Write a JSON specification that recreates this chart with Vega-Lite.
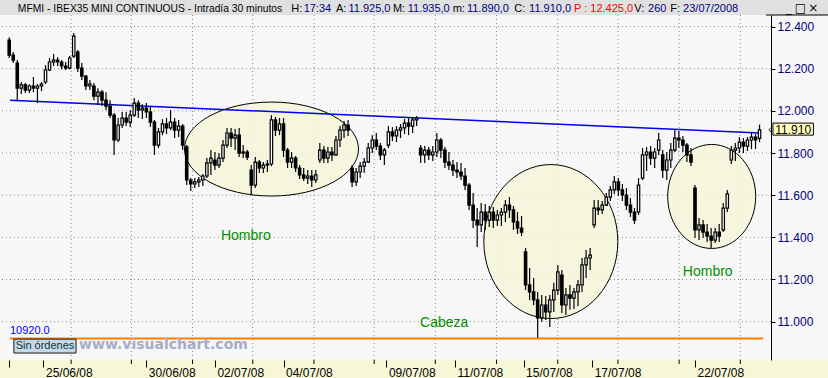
{
"$schema": "https://vega.github.io/schema/vega-lite/v6.json",
"width": 771, "height": 345,
"autosize": {"type": "none"},
"padding": {"left": 0, "top": 15, "right": 57, "bottom": 18},
"background": "#f7f7f7",
"config": {"view": {"stroke": null}, "text": {"font": "Liberation Sans"}},
"resolve": {"axis": {"x": "independent", "y": "independent"}},
"data": {"values": [{}]},
"datasets": {
"hg": [{"v":11000},{"v":11200},{"v":11400},{"v":11600},{"v":11800},{"v":12000},{"v":12200},{"v":12400}],
"vg": [{"n":15.35},{"n":30.28},{"n":45.45},{"n":60.37},{"n":75.54},{"n":90.47},{"n":105.63},{"n":120.81},{"n":135.97},{"n":150.9},{"n":166.07},{"n":181.24}],
"ell": [{"id":1,"n":65.02,"v":11819},{"id":2,"n":134.26,"v":11380},{"id":3,"n":174.14,"v":11594}],
"trend": [{"n":0.2,"v":12051},{"n":186.1,"v":11895}],
"lbl": [{"n":58.66,"v":11387,"t":"Hombro"},{"n":107.84,"v":10975,"t":"Cabeza"},{"n":173.16,"v":11217,"t":"Hombro"}],
"hdr": [{"n":69.9,"t":"H:","k":"label"},{"n":73.0,"t":"17:34","k":"value"},{"n":81.0,"t":"A:","k":"label"},{"n":84.1,"t":"11.925,0","k":"value"},{"n":95.11,"t":"M:","k":"label"},{"n":98.79,"t":"11.935,0","k":"value"},{"n":109.92,"t":"m:","k":"label"},{"n":113.47,"t":"11.890,0","k":"value"},{"n":125.21,"t":"C:","k":"label"},{"n":128.88,"t":"11.910,0","k":"value"},{"n":140.01,"t":"P : 12.425,0","k":"alert"},{"n":154.94,"t":"V:","k":"label"},{"n":158.37,"t":"260","k":"value"},{"n":163.87,"t":"F:","k":"label"},{"n":167.05,"t":"23/07/2008","k":"value"}],
"btn": [{"n":193.23,"t":"_"},{"n":196.16,"t":"□"},{"n":199.35,"t":"×"}],
"bars": [
{"n":0,"o":12336,"h":12350,"l":12251,"c":12265},{"n":1,"o":12265,"h":12279,"l":12227,"c":12241},{"n":2,"o":12227,"h":12241,"l":12051,"c":12108},{"n":3,"o":12108,"h":12137,"l":12080,"c":12123},{"n":4,"o":12123,"h":12132,"l":12085,"c":12099},{"n":5,"o":12099,"h":12127,"l":12085,"c":12118},{"n":6,"o":12118,"h":12161,"l":12089,"c":12108},{"n":7,"o":12108,"h":12127,"l":12037,"c":12118},{"n":8,"o":12118,"h":12137,"l":12094,"c":12127},{"n":9,"o":12137,"h":12217,"l":12127,"c":12194},
{"n":10,"o":12194,"h":12251,"l":12189,"c":12232},{"n":11,"o":12232,"h":12270,"l":12213,"c":12241},{"n":12,"o":12241,"h":12255,"l":12213,"c":12232},{"n":13,"o":12232,"h":12241,"l":12198,"c":12213},{"n":14,"o":12213,"h":12232,"l":12194,"c":12203},{"n":15,"o":12203,"h":12260,"l":12198,"c":12251},{"n":16,"o":12260,"h":12369,"l":12251,"c":12355},{"n":17,"o":12279,"h":12289,"l":12184,"c":12203},{"n":18,"o":12203,"h":12227,"l":12146,"c":12165},{"n":19,"o":12165,"h":12170,"l":12099,"c":12118},
{"n":20,"o":12118,"h":12146,"l":12099,"c":12127},{"n":21,"o":12118,"h":12132,"l":12051,"c":12070},{"n":22,"o":12070,"h":12108,"l":12028,"c":12089},{"n":23,"o":12089,"h":12099,"l":12023,"c":12051},{"n":24,"o":12051,"h":12089,"l":12004,"c":12023},{"n":25,"o":12023,"h":12051,"l":11966,"c":11980},{"n":26,"o":11980,"h":11990,"l":11791,"c":11862},{"n":27,"o":11862,"h":11966,"l":11852,"c":11933},{"n":28,"o":11933,"h":11995,"l":11919,"c":11966},{"n":29,"o":11966,"h":11995,"l":11928,"c":11947},
{"n":30,"o":11947,"h":12004,"l":11923,"c":11980},{"n":31,"o":11980,"h":12061,"l":11971,"c":12037},{"n":32,"o":12037,"h":12051,"l":11966,"c":12004},{"n":33,"o":12004,"h":12032,"l":11961,"c":12013},{"n":34,"o":12013,"h":12037,"l":11966,"c":11995},{"n":35,"o":11995,"h":12023,"l":11923,"c":11947},{"n":36,"o":11947,"h":11957,"l":11791,"c":11838},{"n":37,"o":11838,"h":11919,"l":11824,"c":11900},{"n":38,"o":11900,"h":11961,"l":11885,"c":11938},{"n":39,"o":11938,"h":11966,"l":11890,"c":11919},
{"n":40,"o":11919,"h":12004,"l":11909,"c":11947},{"n":41,"o":11947,"h":11966,"l":11871,"c":11909},{"n":42,"o":11909,"h":11957,"l":11876,"c":11928},{"n":43,"o":11928,"h":11938,"l":11814,"c":11838},{"n":44,"o":11829,"h":11838,"l":11648,"c":11672},{"n":45,"o":11672,"h":11681,"l":11620,"c":11653},{"n":46,"o":11653,"h":11681,"l":11634,"c":11663},{"n":47,"o":11663,"h":11686,"l":11639,"c":11672},{"n":48,"o":11672,"h":11700,"l":11644,"c":11691},{"n":49,"o":11691,"h":11776,"l":11681,"c":11753},
{"n":50,"o":11753,"h":11814,"l":11696,"c":11776},{"n":51,"o":11767,"h":11805,"l":11719,"c":11743},{"n":52,"o":11743,"h":11800,"l":11729,"c":11776},{"n":53,"o":11776,"h":11862,"l":11757,"c":11838},{"n":54,"o":11838,"h":11919,"l":11824,"c":11895},{"n":55,"o":11895,"h":11919,"l":11829,"c":11871},{"n":56,"o":11871,"h":11914,"l":11814,"c":11885},{"n":57,"o":11885,"h":11919,"l":11781,"c":11800},{"n":58,"o":11800,"h":11838,"l":11776,"c":11805},{"n":59,"o":11805,"h":11814,"l":11767,"c":11781},
{"n":60,"o":11719,"h":11743,"l":11601,"c":11648},{"n":61,"o":11648,"h":11781,"l":11634,"c":11757},{"n":62,"o":11757,"h":11767,"l":11705,"c":11729},{"n":63,"o":11729,"h":11757,"l":11705,"c":11743},{"n":64,"o":11743,"h":11767,"l":11710,"c":11748},{"n":65,"o":11748,"h":11980,"l":11738,"c":11957},{"n":66,"o":11957,"h":11971,"l":11881,"c":11909},{"n":67,"o":11909,"h":11966,"l":11885,"c":11938},{"n":68,"o":11938,"h":11966,"l":11781,"c":11814},{"n":69,"o":11814,"h":11824,"l":11729,"c":11757},
{"n":70,"o":11757,"h":11805,"l":11729,"c":11776},{"n":71,"o":11776,"h":11786,"l":11710,"c":11729},{"n":72,"o":11729,"h":11743,"l":11677,"c":11696},{"n":73,"o":11696,"h":11729,"l":11667,"c":11681},{"n":74,"o":11681,"h":11719,"l":11653,"c":11691},{"n":75,"o":11691,"h":11719,"l":11639,"c":11672},{"n":76,"o":11672,"h":11719,"l":11658,"c":11696},{"n":77,"o":11767,"h":11848,"l":11753,"c":11814},{"n":78,"o":11814,"h":11833,"l":11753,"c":11776},{"n":79,"o":11776,"h":11829,"l":11753,"c":11805},
{"n":80,"o":11805,"h":11829,"l":11762,"c":11791},{"n":81,"o":11791,"h":11881,"l":11786,"c":11862},{"n":82,"o":11862,"h":11928,"l":11829,"c":11909},{"n":83,"o":11909,"h":11952,"l":11871,"c":11933},{"n":84,"o":11933,"h":11957,"l":11881,"c":11909},{"n":85,"o":11729,"h":11743,"l":11639,"c":11663},{"n":86,"o":11663,"h":11729,"l":11644,"c":11710},{"n":87,"o":11710,"h":11757,"l":11681,"c":11738},{"n":88,"o":11738,"h":11776,"l":11705,"c":11757},{"n":89,"o":11757,"h":11848,"l":11753,"c":11824},
{"n":90,"o":11824,"h":11885,"l":11800,"c":11862},{"n":91,"o":11862,"h":11895,"l":11814,"c":11833},{"n":92,"o":11833,"h":11848,"l":11767,"c":11791},{"n":93,"o":11791,"h":11824,"l":11743,"c":11814},{"n":94,"o":11838,"h":11928,"l":11824,"c":11900},{"n":95,"o":11900,"h":11923,"l":11857,"c":11881},{"n":96,"o":11881,"h":11928,"l":11852,"c":11909},{"n":97,"o":11909,"h":11938,"l":11871,"c":11919},{"n":98,"o":11919,"h":11961,"l":11890,"c":11942},{"n":99,"o":11942,"h":11966,"l":11885,"c":11928},
{"n":100,"o":11928,"h":11971,"l":11895,"c":11957},{"n":101,"o":11957,"h":11976,"l":11928,"c":11966},{"n":102,"o":11824,"h":11838,"l":11753,"c":11791},{"n":103,"o":11791,"h":11833,"l":11753,"c":11814},{"n":104,"o":11814,"h":11829,"l":11767,"c":11791},{"n":105,"o":11791,"h":11833,"l":11762,"c":11805},{"n":106,"o":11805,"h":11895,"l":11781,"c":11862},{"n":107,"o":11862,"h":11871,"l":11776,"c":11814},{"n":108,"o":11814,"h":11829,"l":11729,"c":11757},{"n":109,"o":11757,"h":11805,"l":11719,"c":11743},
{"n":110,"o":11743,"h":11767,"l":11691,"c":11719},{"n":111,"o":11719,"h":11757,"l":11681,"c":11710},{"n":112,"o":11710,"h":11753,"l":11672,"c":11691},{"n":113,"o":11691,"h":11729,"l":11625,"c":11648},{"n":114,"o":11648,"h":11658,"l":11530,"c":11553},{"n":115,"o":11553,"h":11610,"l":11444,"c":11482},{"n":116,"o":11482,"h":11539,"l":11354,"c":11459},{"n":117,"o":11459,"h":11563,"l":11425,"c":11520},{"n":118,"o":11520,"h":11558,"l":11435,"c":11482},{"n":119,"o":11482,"h":11549,"l":11449,"c":11520},
{"n":120,"o":11520,"h":11544,"l":11444,"c":11482},{"n":121,"o":11482,"h":11530,"l":11454,"c":11506},{"n":122,"o":11506,"h":11539,"l":11454,"c":11520},{"n":123,"o":11520,"h":11577,"l":11473,"c":11553},{"n":124,"o":11553,"h":11591,"l":11492,"c":11530},{"n":125,"o":11530,"h":11549,"l":11435,"c":11473},{"n":126,"o":11473,"h":11520,"l":11416,"c":11444},{"n":127,"o":11444,"h":11501,"l":11406,"c":11425},{"n":128,"o":11331,"h":11350,"l":11150,"c":11174},{"n":129,"o":11174,"h":11255,"l":11103,"c":11141},
{"n":130,"o":11141,"h":11207,"l":11079,"c":11103},{"n":131,"o":11103,"h":11141,"l":10923,"c":11018},{"n":132,"o":11018,"h":11127,"l":10999,"c":11079},{"n":133,"o":11079,"h":11122,"l":11008,"c":11046},{"n":134,"o":11046,"h":11127,"l":10975,"c":11103},{"n":135,"o":11103,"h":11184,"l":11046,"c":11150},{"n":136,"o":11150,"h":11269,"l":11127,"c":11236},{"n":137,"o":11221,"h":11245,"l":11041,"c":11079},{"n":138,"o":11079,"h":11160,"l":11032,"c":11127},{"n":139,"o":11127,"h":11174,"l":11056,"c":11112},
{"n":140,"o":11112,"h":11160,"l":11060,"c":11141},{"n":141,"o":11141,"h":11198,"l":11074,"c":11174},{"n":142,"o":11174,"h":11302,"l":11141,"c":11269},{"n":143,"o":11269,"h":11340,"l":11207,"c":11302},{"n":144,"o":11302,"h":11350,"l":11245,"c":11316},{"n":145,"o":11459,"h":11577,"l":11444,"c":11539},{"n":146,"o":11539,"h":11577,"l":11506,"c":11530},{"n":147,"o":11530,"h":11572,"l":11511,"c":11553},{"n":148,"o":11553,"h":11610,"l":11549,"c":11591},{"n":149,"o":11591,"h":11644,"l":11572,"c":11625},
{"n":150,"o":11625,"h":11691,"l":11606,"c":11663},{"n":151,"o":11663,"h":11681,"l":11596,"c":11625},{"n":152,"o":11625,"h":11653,"l":11572,"c":11601},{"n":153,"o":11601,"h":11634,"l":11530,"c":11553},{"n":154,"o":11553,"h":11587,"l":11497,"c":11520},{"n":155,"o":11520,"h":11539,"l":11463,"c":11482},{"n":156,"o":11520,"h":11681,"l":11506,"c":11648},{"n":157,"o":11681,"h":11824,"l":11672,"c":11791},{"n":158,"o":11791,"h":11829,"l":11715,"c":11805},{"n":159,"o":11805,"h":11833,"l":11743,"c":11776},
{"n":160,"o":11776,"h":11824,"l":11729,"c":11805},{"n":161,"o":11814,"h":11895,"l":11791,"c":11862},{"n":162,"o":11791,"h":11814,"l":11681,"c":11719},{"n":163,"o":11719,"h":11805,"l":11672,"c":11767},{"n":164,"o":11767,"h":11848,"l":11729,"c":11814},{"n":165,"o":11814,"h":11909,"l":11805,"c":11871},{"n":166,"o":11871,"h":11904,"l":11824,"c":11862},{"n":167,"o":11862,"h":11881,"l":11805,"c":11838},{"n":168,"o":11838,"h":11848,"l":11757,"c":11791},{"n":169,"o":11791,"h":11824,"l":11738,"c":11757},
{"n":170,"o":11634,"h":11648,"l":11397,"c":11435},{"n":171,"o":11435,"h":11492,"l":11387,"c":11459},{"n":172,"o":11459,"h":11482,"l":11397,"c":11425},{"n":173,"o":11425,"h":11463,"l":11378,"c":11406},{"n":174,"o":11406,"h":11444,"l":11350,"c":11387},{"n":175,"o":11387,"h":11444,"l":11373,"c":11425},{"n":176,"o":11425,"h":11463,"l":11378,"c":11406},{"n":177,"o":11435,"h":11563,"l":11425,"c":11539},{"n":178,"o":11539,"h":11625,"l":11520,"c":11606},{"n":179,"o":11767,"h":11833,"l":11748,"c":11814},
{"n":180,"o":11814,"h":11848,"l":11762,"c":11824},{"n":181,"o":11824,"h":11876,"l":11800,"c":11852},{"n":182,"o":11852,"h":11871,"l":11800,"c":11833},{"n":183,"o":11833,"h":11876,"l":11810,"c":11862},{"n":184,"o":11862,"h":11900,"l":11819,"c":11876},{"n":185,"o":11876,"h":11890,"l":11819,"c":11862},{"n":186,"o":11870,"h":11935,"l":11852,"c":11910}
]
},
"layer": [
{"mark": {"type": "rect", "fill": "#e0e0e0"},
 "encoding": {"x": {"datum": -3, "type": "quantitative", "scale": {"domain": [-1.042, 187.6], "nice": false, "zero": false}, "axis": null}, "x2": {"datum": 205},
  "y": {"datum": 12455, "type": "quantitative", "scale": {"domain": [10818, 12455], "nice": false, "zero": false}, "axis": null}, "y2": {"datum": 12560}}},
{"mark": {"type": "rect", "fill": "#f7f7d7"},
 "encoding": {"x": {"datum": -3, "type": "quantitative", "scale": {"domain": [-1.042, 187.6], "nice": false, "zero": false}, "axis": null}, "x2": {"datum": 205},
  "y": {"datum": 10818, "type": "quantitative", "scale": {"domain": [10818, 12455], "nice": false, "zero": false}, "axis": null}, "y2": {"datum": 10700}}},
{"data": {"name": "hg"}, "mark": {"type": "rule", "stroke": "#8a8a8a", "strokeDash": [1, 3], "strokeWidth": 1},
 "encoding": {"y": {"field": "v", "type": "quantitative", "scale": {"domain": [10818, 12455], "nice": false, "zero": false}, "axis": null}}},
{"data": {"name": "vg"}, "mark": {"type": "rule", "stroke": "#8a8a8a", "strokeDash": [1, 3], "strokeWidth": 1},
 "encoding": {"x": {"field": "n", "type": "quantitative", "scale": {"domain": [-1.042, 187.6], "nice": false, "zero": false}, "axis": null}}},
{"data": {"name": "vg"}, "mark": {"type": "rule", "stroke": "#000000", "strokeWidth": 1},
 "encoding": {"x": {"field": "n", "type": "quantitative", "scale": {"domain": [-1.042, 187.6], "nice": false, "zero": false}, "axis": null},
  "y": {"datum": 10818, "type": "quantitative", "scale": {"domain": [10818, 12455], "nice": false, "zero": false}, "axis": null}, "y2": {"datum": 10799}}},
{"data": {"name": "ell"}, "transform": [{"filter": "datum.id == 1"}],
 "mark": {"type": "point", "shape": "M -1 0 A 1 0.54 0 1 0 1 0 A 1 0.54 0 1 0 -1 0 Z", "size": 30276, "filled": true, "fill": "#f5f5dc", "fillOpacity": 0.9, "opacity": 1, "stroke": "#000000", "strokeWidth": 1},
 "encoding": {"x": {"field": "n", "type": "quantitative", "scale": {"domain": [-1.042, 187.6], "nice": false, "zero": false}, "axis": null},
  "y": {"field": "v", "type": "quantitative", "scale": {"domain": [10818, 12455], "nice": false, "zero": false}, "axis": null}}},
{"data": {"name": "ell"}, "transform": [{"filter": "datum.id == 2"}],
 "mark": {"type": "point", "shape": "M -0.87 0 A 0.87 1 0 1 0 0.87 0 A 0.87 1 0 1 0 -0.87 0 Z", "size": 23716, "filled": true, "fill": "#f5f5dc", "fillOpacity": 0.9, "opacity": 1, "stroke": "#000000", "strokeWidth": 1},
 "encoding": {"x": {"field": "n", "type": "quantitative", "scale": {"domain": [-1.042, 187.6], "nice": false, "zero": false}, "axis": null},
  "y": {"field": "v", "type": "quantitative", "scale": {"domain": [10818, 12455], "nice": false, "zero": false}, "axis": null}}},
{"data": {"name": "ell"}, "transform": [{"filter": "datum.id == 3"}],
 "mark": {"type": "point", "shape": "M -0.846 0 A 0.846 1 0 1 0 0.846 0 A 0.846 1 0 1 0 -0.846 0 Z", "size": 10816, "filled": true, "fill": "#f5f5dc", "fillOpacity": 0.9, "opacity": 1, "stroke": "#000000", "strokeWidth": 1},
 "encoding": {"x": {"field": "n", "type": "quantitative", "scale": {"domain": [-1.042, 187.6], "nice": false, "zero": false}, "axis": null},
  "y": {"field": "v", "type": "quantitative", "scale": {"domain": [10818, 12455], "nice": false, "zero": false}, "axis": null}}},
{"data": {"name": "trend"}, "mark": {"type": "line", "stroke": "#0000f0", "strokeWidth": 1.5},
 "encoding": {"x": {"field": "n", "type": "quantitative", "scale": {"domain": [-1.042, 187.6], "nice": false, "zero": false}, "axis": null},
  "y": {"field": "v", "type": "quantitative", "scale": {"domain": [10818, 12455], "nice": false, "zero": false}, "axis": null}}},
{"mark": {"type": "rule", "stroke": "#ff8000", "strokeWidth": 2},
 "encoding": {"x": {"datum": 0.18, "type": "quantitative", "scale": {"domain": [-1.042, 187.6], "nice": false, "zero": false}, "axis": null}, "x2": {"datum": 186.9},
  "y": {"datum": 10920, "type": "quantitative", "scale": {"domain": [10818, 12455], "nice": false, "zero": false}, "axis": null}}},
{"mark": {"type": "text", "text": "10920.0", "fill": "#0000ff", "fontSize": 11, "align": "left", "baseline": "alphabetic", "dy": -5},
 "encoding": {"x": {"datum": 0.18, "type": "quantitative", "scale": {"domain": [-1.042, 187.6], "nice": false, "zero": false}, "axis": null},
  "y": {"datum": 10920, "type": "quantitative", "scale": {"domain": [10818, 12455], "nice": false, "zero": false}, "axis": null}}},
{"data": {"name": "bars"}, "mark": {"type": "rule", "stroke": "#000000", "strokeWidth": 1.2},
 "encoding": {
  "x": {"field": "n", "type": "quantitative", "scale": {"domain": [-1.042, 187.6], "nice": false, "zero": false},
   "axis": {"orient": "bottom", "values": [0, 8.5, 34, 51, 68, 93.5, 110.5, 127.5, 144.5, 170], "labelExpr": "datum.value==8.5?'25/06/08':datum.value==34?'30/06/08':datum.value==51?'02/07/08':datum.value==68?'04/07/08':datum.value==93.5?'09/07/08':datum.value==110.5?'11/07/08':datum.value==127.5?'15/07/08':datum.value==144.5?'17/07/08':datum.value==170?'22/07/08':''",
    "title": null, "grid": false, "domain": false, "tickSize": 7, "tickColor": "#000000", "tickWidth": 1, "labelAlign": "left", "labelBaseline": "alphabetic", "labelPadding": 9, "labelOffset": 2, "labelFont": "Liberation Sans", "labelFontSize": 12, "labelColor": "#000000", "labelOverlap": false, "labelFlush": false, "labelBound": false, "zindex": 1}},
  "y": {"field": "l", "type": "quantitative", "scale": {"domain": [10818, 12455], "nice": false, "zero": false},
   "axis": {"orient": "right", "values": [11000, 11200, 11400, 11600, 11800, 12000, 12200, 12400], "labelExpr": "replace(format(datum.value, ','), ',', '.')", "title": null, "grid": false, "domain": true, "domainColor": "#000000", "domainWidth": 1, "tickSize": 4, "tickColor": "#000000", "labelPadding": 2, "labelFont": "Liberation Sans", "labelFontSize": 12, "labelColor": "#000080", "labelOverlap": false, "labelFlush": false, "labelBound": false, "zindex": 1}},
  "y2": {"field": "h"}}},
{"data": {"name": "bars"}, "mark": {"type": "bar", "size": 2.4, "stroke": "#000000", "strokeWidth": 1.2},
 "encoding": {"x": {"field": "n", "type": "quantitative", "scale": {"domain": [-1.042, 187.6], "nice": false, "zero": false}, "axis": null},
  "y": {"field": "o", "type": "quantitative", "scale": {"domain": [10818, 12455], "nice": false, "zero": false}, "axis": null}, "y2": {"field": "c"},
  "color": {"condition": {"test": "datum.c >= datum.o", "value": "#ffffff"}, "value": "#000000"}}},
{"data": {"name": "lbl"}, "mark": {"type": "text", "fill": "#009000", "fontSize": 14, "align": "center", "baseline": "alphabetic"},
 "encoding": {"x": {"field": "n", "type": "quantitative", "scale": {"domain": [-1.042, 187.6], "nice": false, "zero": false}, "axis": null},
  "y": {"field": "v", "type": "quantitative", "scale": {"domain": [10818, 12455], "nice": false, "zero": false}, "axis": null}, "text": {"field": "t"}}},
{"mark": {"type": "rect", "fill": "#c6d9ea", "stroke": "#1a1a1a", "strokeWidth": 1},
 "encoding": {"x": {"datum": 1.16, "type": "quantitative", "scale": {"domain": [-1.042, 187.6], "nice": false, "zero": false}, "axis": null}, "x2": {"datum": 16.57},
  "y": {"datum": 10917, "type": "quantitative", "scale": {"domain": [10818, 12455], "nice": false, "zero": false}, "axis": null}, "y2": {"datum": 10851}}},
{"mark": {"type": "text", "text": "Sin órdenes", "fill": "#0c3434", "fontSize": 11, "align": "center", "baseline": "alphabetic"},
 "encoding": {"x": {"datum": 8.87, "type": "quantitative", "scale": {"domain": [-1.042, 187.6], "nice": false, "zero": false}, "axis": null},
  "y": {"datum": 10870, "type": "quantitative", "scale": {"domain": [10818, 12455], "nice": false, "zero": false}, "axis": null}}},
{"mark": {"type": "text", "text": "www.visualchart.com", "fill": "#a6accc", "font": "DejaVu Sans", "fontWeight": "bold", "fontSize": 14, "align": "left", "baseline": "alphabetic"},
 "encoding": {"x": {"datum": 17.31, "type": "quantitative", "scale": {"domain": [-1.042, 187.6], "nice": false, "zero": false}, "axis": null},
  "y": {"datum": 10870, "type": "quantitative", "scale": {"domain": [10818, 12455], "nice": false, "zero": false}, "axis": null}}},
{"mark": {"type": "rect", "fill": "#ffffc0", "stroke": "#000000", "strokeWidth": 1},
 "encoding": {"x": {"datum": 189.32, "type": "quantitative", "scale": {"domain": [-1.042, 187.6], "nice": false, "zero": false}, "axis": null}, "x2": {"datum": 199.35},
  "y": {"datum": 11942, "type": "quantitative", "scale": {"domain": [10818, 12455], "nice": false, "zero": false}, "axis": null}, "y2": {"datum": 11885}}},
{"mark": {"type": "text", "text": "11.910", "fill": "#000000", "fontSize": 12, "align": "center", "baseline": "middle"},
 "encoding": {"x": {"datum": 194.34, "type": "quantitative", "scale": {"domain": [-1.042, 187.6], "nice": false, "zero": false}, "axis": null},
  "y": {"datum": 11910, "type": "quantitative", "scale": {"domain": [10818, 12455], "nice": false, "zero": false}, "axis": null}}},
{"mark": {"type": "text", "text": "‹", "fill": "#000000", "fontSize": 10, "align": "center", "baseline": "middle"},
 "encoding": {"x": {"datum": 188.58, "type": "quantitative", "scale": {"domain": [-1.042, 187.6], "nice": false, "zero": false}, "axis": null},
  "y": {"datum": 11910, "type": "quantitative", "scale": {"domain": [10818, 12455], "nice": false, "zero": false}, "axis": null}}},
{"mark": {"type": "text", "text": "MFMI - IBEX35 MINI CONTINUOUS - Intradía 30 minutos", "fill": "#000000", "fontSize": 10.3, "align": "left", "baseline": "alphabetic"},
 "encoding": {"x": {"datum": 2.139, "type": "quantitative", "scale": {"domain": [-1.042, 187.6], "nice": false, "zero": false}, "axis": null},
  "y": {"datum": 12471.6, "type": "quantitative", "scale": {"domain": [10818, 12455], "nice": false, "zero": false}, "axis": null}}},
{"data": {"name": "hdr"}, "mark": {"type": "text", "fontSize": 11, "align": "left", "baseline": "alphabetic"},
 "encoding": {"x": {"field": "n", "type": "quantitative", "scale": {"domain": [-1.042, 187.6], "nice": false, "zero": false}, "axis": null},
  "y": {"datum": 12471.6, "type": "quantitative", "scale": {"domain": [10818, 12455], "nice": false, "zero": false}, "axis": null},
  "text": {"field": "t"},
  "color": {"field": "k", "type": "nominal", "scale": {"domain": ["label", "value", "alert"], "range": ["#000000", "#000080", "#ff0000"]}, "legend": null}}},
{"data": {"name": "btn"}, "mark": {"type": "text", "fontSize": 12, "align": "center", "baseline": "alphabetic", "fill": "#000000", "font": "DejaVu Sans"},
 "encoding": {"x": {"field": "n", "type": "quantitative", "scale": {"domain": [-1.042, 187.6], "nice": false, "zero": false}, "axis": null},
  "y": {"datum": 12469, "type": "quantitative", "scale": {"domain": [10818, 12455], "nice": false, "zero": false}, "axis": null},
  "text": {"field": "t"}}},
{"mark": {"type": "rule", "stroke": "#000000", "strokeWidth": 1},
 "encoding": {"x": {"datum": 187.6, "type": "quantitative", "scale": {"domain": [-1.042, 187.6], "nice": false, "zero": false}, "axis": null}, "x2": {"datum": 205},
  "y": {"datum": 12455, "type": "quantitative", "scale": {"domain": [10818, 12455], "nice": false, "zero": false}, "axis": null}}}
]
}
